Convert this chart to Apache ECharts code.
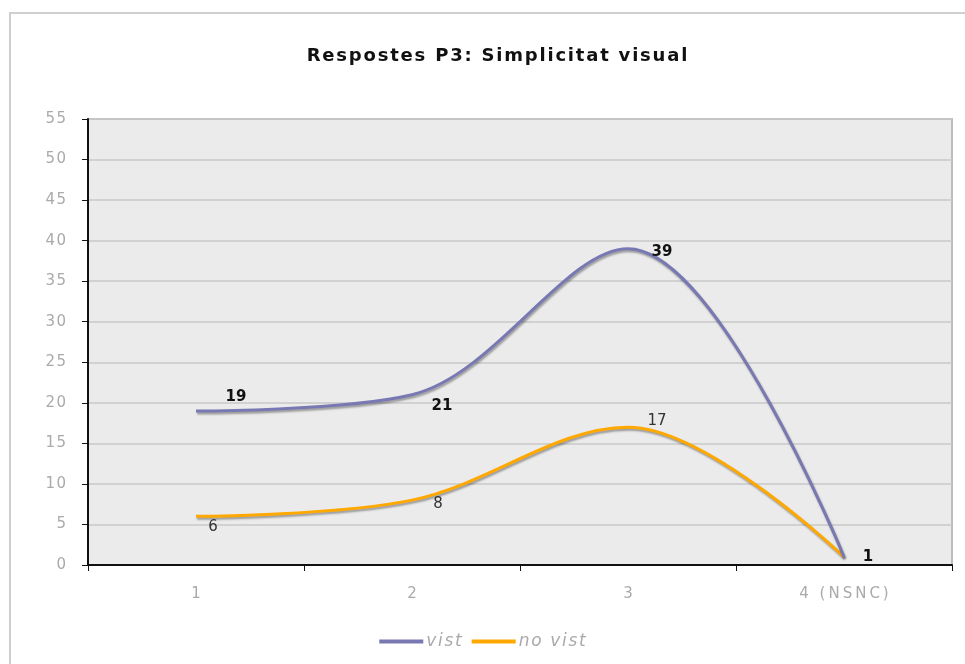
<!DOCTYPE html>
<html>
<head>
<meta charset="utf-8">
<script src="https://cdn.jsdelivr.net/npm/echarts@6/dist/echarts.min.js"></script>
<style>html,body{margin:0;padding:0;background:#fff;}#c{width:965px;height:664px;}</style>
</head>
<body>
<div id="c"></div>
<script>
var categories = ['1', '2', '3', '4 (NSNC)'];
var vist = [19, 21, 39, 1];
var noVist = [6, 8, 17, 1];
var seriesNames = ['vist', 'no vist'];
var titleText = 'Respostes P3: Simplicitat visual';
var vistLabelOffsets = [[40, -14], [30, 11], [34, 3], [24, 0]];
var noVistLabelOffsets = [[17, 11], [26, 4], [29, -6], [24, 0]];

function spaced(s) { return String(s).split('').join('\u2009'); }
function hair(s) { return String(s).split('').join('\u200A'); }

function buildData(vals, offs) {
  return vals.map(function (v, i) {
    return { value: v, label: { offset: offs[i] } };
  });
}

var chart = echarts.init(document.getElementById('c'));
chart.setOption({
  animation: false,
  backgroundColor: '#fff',
  title: {
    text: hair(titleText),
    left: 492, top: 42, textAlign: 'center',
    textStyle: { fontFamily: 'DejaVu Sans', fontWeight: 'bold', fontSize: 18, color: '#111' }
  },
  graphic: [{
    type: 'rect', shape: { x: 10, y: 13, width: 1000, height: 700 },
    style: { fill: 'none', stroke: '#cfcfcf', lineWidth: 2 }, silent: true, z: -10
  }],
  legend: {
    bottom: 9, left: 'center', itemWidth: 44, itemHeight: 4, itemGap: 10,
    icon: 'rect',
    formatter: hair,
    textStyle: { fontFamily: 'DejaVu Sans', fontStyle: 'italic', fontSize: 17, color: '#aaa', padding: [0, 0, 0, -2] },
    data: seriesNames
  },
  grid: {
    left: 88, right: 13, top: 119, bottom: 99,
    show: true, backgroundColor: '#ebebeb', borderColor: '#bdbdbd', borderWidth: 2
  },
  xAxis: {
    type: 'category', data: categories, boundaryGap: true,
    axisLine: { lineStyle: { color: '#111', width: 2 } },
    axisTick: { show: true, length: 6, lineStyle: { color: '#111', width: 1 } },
    axisLabel: { margin: 22, fontFamily: 'DejaVu Sans', fontSize: 15, color: '#aaa', formatter: spaced },
    splitLine: { show: false }
  },
  yAxis: {
    type: 'value', min: 0, max: 55, interval: 5,
    axisLine: { show: true, lineStyle: { color: '#111', width: 2 } },
    axisTick: { show: true, length: 6, lineStyle: { color: '#111', width: 1 } },
    axisLabel: { margin: 22, fontFamily: 'DejaVu Sans', fontSize: 15, color: '#aaa', formatter: hair },
    splitLine: { lineStyle: { color: '#c8c8c8', width: 1.5 } }
  },
  series: [{
    name: seriesNames[0], type: 'line', smooth: 0.35,
    data: buildData(vist, vistLabelOffsets),
    symbol: 'circle', symbolSize: 0.1,
    itemStyle: { color: '#7878b2' },
    lineStyle: { color: '#7878b2', width: 3, shadowColor: 'rgba(0,0,0,0.35)', shadowBlur: 2, shadowOffsetX: 1, shadowOffsetY: 2 },
    label: { show: true, position: 'inside', fontFamily: 'DejaVu Sans', fontWeight: 'bold', fontSize: 15, color: '#111' },
    z: 3
  }, {
    name: seriesNames[1], type: 'line', smooth: 0.35,
    data: buildData(noVist, noVistLabelOffsets),
    symbol: 'circle', symbolSize: 0.1,
    itemStyle: { color: '#ffa800' },
    lineStyle: { color: '#ffa800', width: 3, shadowColor: 'rgba(0,0,0,0.35)', shadowBlur: 2, shadowOffsetX: 1, shadowOffsetY: 2 },
    label: { show: true, position: 'inside', fontFamily: 'DejaVu Sans', fontSize: 15, color: '#333' },
    z: 2
  }]
});
</script>
</body>
</html>
